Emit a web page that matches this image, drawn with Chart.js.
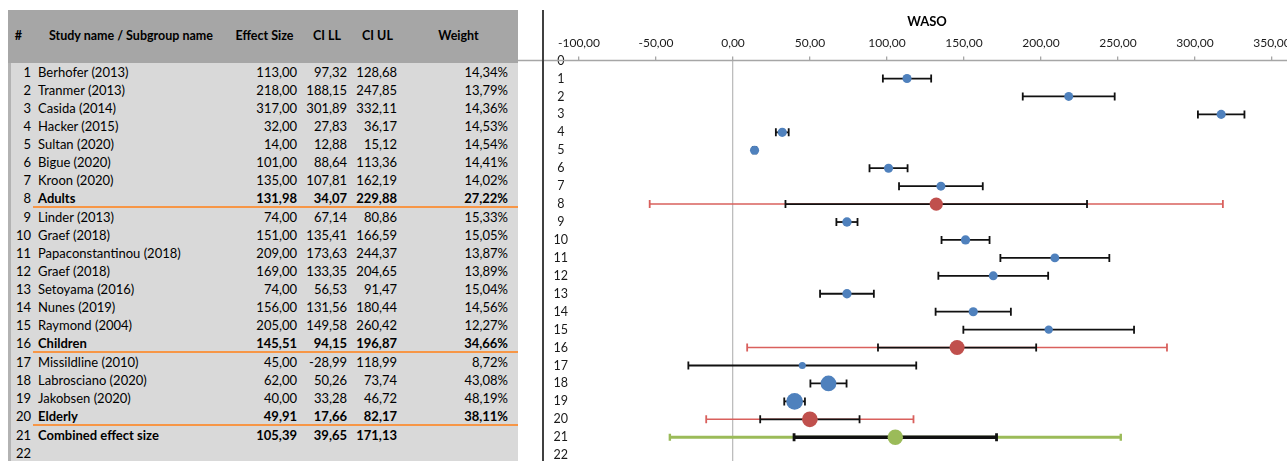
<!DOCTYPE html>
<html>
<head>
<meta charset="utf-8">
<script src="https://cdn.jsdelivr.net/npm/chart.js@4.4.1/dist/chart.umd.min.js"></script>
<style>
  html, body { margin: 0; padding: 0; background: #fff; width: 1287px; height: 461px; overflow: hidden; }
  body { position: relative; font-family: Lato, "Liberation Sans", sans-serif; }
  #tbl { position: absolute; left: 8px; top: 10px; width: 510px; height: 460px; background: #d9d9d9; }
  #hdr { position: absolute; left: 0; top: 0; width: 510px; height: 53px; background: #a6a6a6; }
  #strip { position: absolute; left: 0; top: 53px; width: 3px; bottom: 0; background: #b3b3b3; }
  .c { position: absolute; white-space: nowrap; font-size: 13px; line-height: 18px; color: #000; }
  .h { position: absolute; top: 0; line-height: 51px; font-size: 12.5px; font-weight: bold; white-space: nowrap; transform: translateX(-50%); }
  .r { text-align: right; }
  .b { font-weight: bold; }
  .sep { position: absolute; left: 25px; width: 485px; height: 2px; background: #f79646; }
  #vline { position: absolute; left: 542px; top: 10px; width: 2px; height: 460px; background: #404040; z-index: 2; }
  #chartBox { position: absolute; left: 505px; top: 0; width: 844px; height: 509px; }
</style>
</head>
<body>
<div id="tbl"><div id="hdr"></div><div id="strip"></div></div>
<div id="chartBox"><canvas id="forest" width="844" height="509"></canvas></div>
<div id="vline"></div>
<script>
// Study rows of the WASO meta-analysis (row numbers 1..21)
const rowNumbers = [1, 2, 3, 4, 5, 6, 7, 8, 9, 10, 11, 12, 13, 14, 15, 16, 17, 18, 19, 20, 21];
const studyNames = [
  'Berhofer (2013)', 'Tranmer (2013)', 'Casida (2014)', 'Hacker (2015)', 'Sultan (2020)',
  'Bigue (2020)', 'Kroon (2020)', 'Adults', 'Linder (2013)', 'Graef (2018)',
  'Papaconstantinou (2018)', 'Graef (2018)', 'Setoyama (2016)', 'Nunes (2019)', 'Raymond (2004)',
  'Children', 'Missildline (2010)', 'Labrosciano (2020)', 'Jakobsen (2020)', 'Elderly',
  'Combined effect size'
];
// 'study', 'subgroup' or 'combined'
const rowKinds = [
  'study', 'study', 'study', 'study', 'study', 'study', 'study', 'subgroup',
  'study', 'study', 'study', 'study', 'study', 'study', 'study', 'subgroup',
  'study', 'study', 'study', 'subgroup', 'combined'
];
const effectSize = [113.00, 218.00, 317.00, 32.00, 14.00, 101.00, 135.00, 131.98, 74.00, 151.00,
  209.00, 169.00, 74.00, 156.00, 205.00, 145.51, 45.00, 62.00, 40.00, 49.91, 105.39];
const ciLower = [97.32, 188.15, 301.89, 27.83, 12.88, 88.64, 107.81, 34.07, 67.14, 135.41,
  173.63, 133.35, 56.53, 131.56, 149.58, 94.15, -28.99, 50.26, 33.28, 17.66, 39.65];
const ciUpper = [128.68, 247.85, 332.11, 36.17, 15.12, 113.36, 162.19, 229.88, 80.86, 166.59,
  244.37, 204.65, 91.47, 180.44, 260.42, 196.87, 118.99, 73.74, 46.72, 82.17, 171.13];
const weightPct = [14.34, 13.79, 14.36, 14.53, 14.54, 14.41, 14.02, 27.22, 15.33, 15.05,
  13.87, 13.89, 15.04, 14.56, 12.27, 34.66, 8.72, 43.08, 48.19, 38.11, null];
// Wider prediction intervals shown for subgroup and combined rows
const predLower = [null, null, null, null, null, null, null, -54.1, null, null,
  null, null, null, null, null, 9.2, null, null, null, -17.4, -41.0];
const predUpper = [null, null, null, null, null, null, null, 318.1, null, null,
  null, null, null, null, null, 281.8, null, null, null, 117.2, 251.8];
// Axis ticks
const xTickMin = -100, xTickMax = 400, xTickStep = 50;
const yRowMin = 0, yRowMax = 25, tableRowCount = 22;

const fmt = v => v.toFixed(2).replace('.', ',');

// ---------- table ----------
const tbl = document.getElementById('tbl');
function cell(text, style, cls) {
  const d = document.createElement('div');
  d.className = cls;
  d.textContent = text;
  Object.assign(d.style, style);
  tbl.appendChild(d);
  return d;
}
[['#', 10.3], ['Study name / Subgroup name', 123], ['Effect Size', 256.5],
 ['CI LL', 319], ['CI UL', 369.5], ['Weight', 450.5]].forEach(([t, cx]) => {
  cell(t, { left: cx + 'px' }, 'h');
});
let sepOffset = 0;
for (let i = 1; i <= tableRowCount; i++) {
  const top = 53 + (i - 1) * 18 + sepOffset;
  cell(String(i), { left: '0px', width: '23px', top: top + 'px' }, 'c r');
  const k = i - 1;
  if (k < studyNames.length) {
    const bold = rowKinds[k] !== 'study' ? ' b' : '';
    cell(studyNames[k], { left: '30px', top: top + 'px' }, 'c' + bold);
    cell(fmt(effectSize[k]), { right: '221px', top: top + 'px' }, 'c r' + bold);
    cell(fmt(ciLower[k]), { right: '171px', top: top + 'px' }, 'c r' + bold);
    cell(fmt(ciUpper[k]), { right: '121px', top: top + 'px' }, 'c r' + bold);
    if (weightPct[k] != null) cell(fmt(weightPct[k]) + '%', { right: '10px', top: top + 'px' }, 'c r' + bold);
    if (rowKinds[k] === 'subgroup') {
      const s = document.createElement('div');
      s.className = 'sep';
      s.style.top = (top + 17) + 'px';
      tbl.appendChild(s);
      sepOffset += 1;
    }
  }
}

// ---------- forest plot ----------
const COLORS = { study: '#4f81bd', subgroup: '#c0504d', combined: '#9bbb59' };

function pointsOf(kind) {
  const pts = [];
  rowNumbers.forEach((r, i) => { if (rowKinds[i] === kind) pts.push({ x: effectSize[i], y: r, w: weightPct[i] }); });
  return pts;
}
function radiusOf(ctx) {
  const p = ctx.raw;
  if (!p || p.w == null) return 7.7;
  return (ctx.dataset.kind === 'subgroup' ? 1.27 : 1.2) * Math.sqrt(p.w);
}

function hBar(ctx, x1, x2, y, color, width, cap) {
  ctx.save();
  ctx.strokeStyle = color;
  ctx.lineWidth = width;
  ctx.beginPath();
  ctx.moveTo(x1, y); ctx.lineTo(x2, y);
  ctx.stroke();
  ctx.lineWidth = Math.max(1.8, width * 0.8);
  ctx.beginPath();
  ctx.moveTo(x1, y - cap); ctx.lineTo(x1, y + cap);
  ctx.moveTo(x2, y - cap); ctx.lineTo(x2, y + cap);
  ctx.stroke();
  ctx.restore();
}

const errorBars = {
  id: 'errorBars',
  beforeDatasetsDraw(chart) {
    const { ctx, scales: { x, y } } = chart;
    // row-0 axis line, running left to the table edge
    const y0 = y.getPixelForValue(0);
    ctx.save();
    ctx.strokeStyle = '#a6a6a6';
    ctx.lineWidth = 1.5;
    ctx.beginPath();
    ctx.moveTo(13, y0); ctx.lineTo(chart.width, y0);
    ctx.stroke();
    ctx.restore();
    rowNumbers.forEach((r, i) => {
      const py = y.getPixelForValue(r);
      const kind = rowKinds[i];
      if (predLower[i] != null) {
        const c = kind === 'combined' ? COLORS.combined : '#d9605d';
        const w = kind === 'combined' ? 3 : 1.5;
        hBar(ctx, x.getPixelForValue(predLower[i]), x.getPixelForValue(predUpper[i]), py, c, w, kind === 'combined' ? 3.5 : 4);
      }
      const bw = kind === 'combined' ? 3.5 : 1.8;
      hBar(ctx, x.getPixelForValue(ciLower[i]), x.getPixelForValue(ciUpper[i]), py, '#111', bw, 4);
    });
  }
};

const FONT = 'Lato, "Liberation Sans", sans-serif';

new Chart(document.getElementById('forest'), {
  type: 'scatter',
  data: {
    datasets: ['study', 'subgroup', 'combined'].map(kind => ({
      kind,
      data: pointsOf(kind),
      backgroundColor: COLORS[kind],
      borderWidth: 0,
      pointRadius: radiusOf,
      pointHoverRadius: radiusOf,
      clip: false
    }))
  },
  options: {
    responsive: false,
    animation: false,
    devicePixelRatio: 1,
    layout: { padding: 0, autoPadding: false },
    plugins: {
      legend: { display: false },
      tooltip: { enabled: false },
      title: {
        display: true,
        text: 'WASO',
        color: '#000',
        font: { family: FONT, size: 13, weight: 'bold' },
        padding: { top: 14, bottom: 0 }
      }
    },
    scales: {
      x: {
        type: 'linear',
        position: 'top',
        min: xTickMin,
        max: xTickMax,
        ticks: {
          stepSize: xTickStep,
          maxRotation: 0,
          autoSkip: false,
          padding: 6,
          color: '#1a1a1a',
          font: { family: FONT, size: 12 },
          callback: v => fmt(v)
        },
        grid: {
          color: ctx => (ctx.tick && ctx.tick.value === 0 ? '#bdbdbd' : 'rgba(0,0,0,0)'),
          lineWidth: 1.3,
          drawTicks: true,
          tickLength: 4,
          tickColor: '#a6a6a6'
        },
        border: { display: false },
        afterFit(scale) { scale.height = 31; scale.paddingLeft = 0; scale.paddingRight = 0; }
      },
      y: {
        type: 'linear',
        reverse: true,
        min: yRowMin,
        max: yRowMax,
        ticks: {
          stepSize: 1,
          autoSkip: false,
          crossAlign: 'center',
          padding: 11,
          color: '#1a1a1a',
          font: { family: FONT, size: 12.5 }
        },
        grid: { display: false, drawTicks: false },
        border: { display: false },
        afterFit(scale) { scale.width = 74; scale.paddingTop = 0; scale.paddingBottom = 0; }
      }
    }
  },
  plugins: [errorBars]
});
</script>
</body>
</html>
